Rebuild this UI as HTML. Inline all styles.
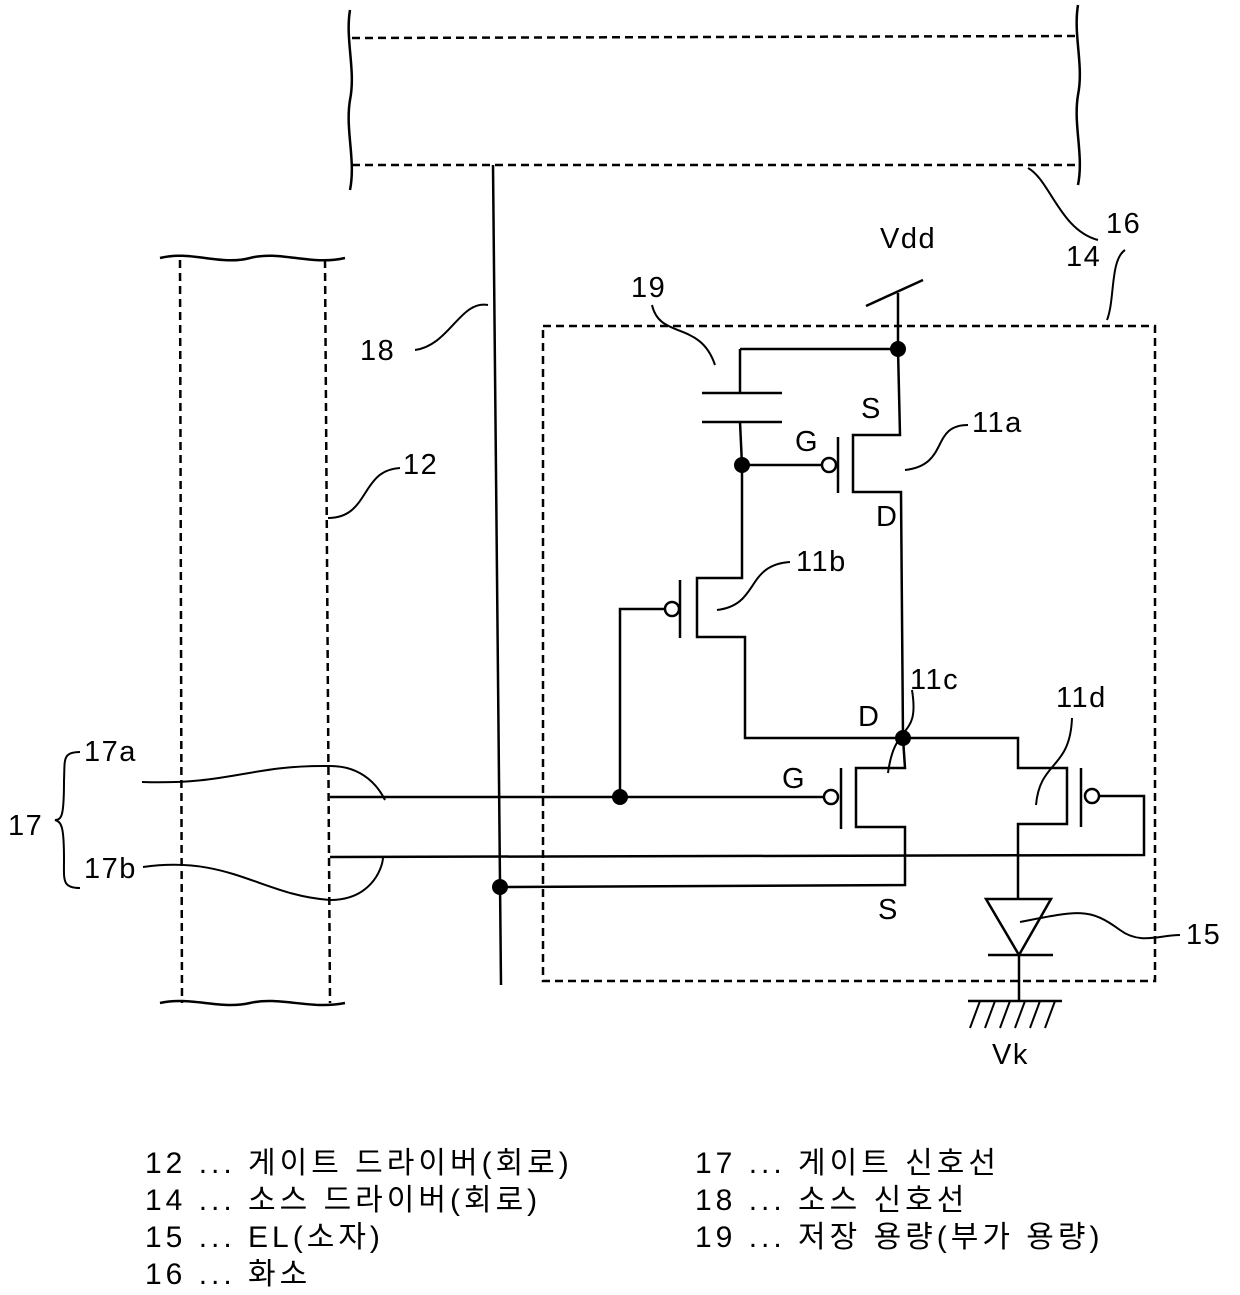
<!DOCTYPE html>
<html><head><meta charset="utf-8"><style>
html,body{margin:0;padding:0;background:#fff;}
svg{display:block;}
text{font-family:"Liberation Sans","Noto Sans CJK KR",sans-serif;fill:#000;}
.l{font-size:29px;letter-spacing:1.5px;}
.g{font-size:30px;letter-spacing:4px;}
</style></head><body>
<svg width="1240" height="1295" viewBox="0 0 1240 1295" xmlns="http://www.w3.org/2000/svg">
<g fill="none" stroke="#000" stroke-width="2.5">
<g stroke-dasharray="8,5">
<line x1="352" y1="38" x2="1076" y2="36"/>
<line x1="352" y1="165" x2="1076" y2="165"/>
</g>
<path d="M350 10 C345 40 356 70 350 100 C345 130 356 160 350 190"/>
<path d="M1078 5 C1073 35 1084 65 1078 95 C1073 125 1084 155 1078 185"/>
<g stroke-dasharray="8,5">
<line x1="180" y1="260" x2="182" y2="1003"/>
<line x1="325" y1="260" x2="330" y2="1003"/>
</g>
<path d="M160 258 C190 250 220 266 250 258 C280 250 310 266 345 258"/>
<path d="M160 1003 C190 996 220 1010 250 1003 C280 996 310 1010 345 1003"/>
<rect x="543" y="326" width="612" height="655" stroke-dasharray="8,5"/>
<line x1="493" y1="165" x2="501" y2="985"/>
<line x1="866" y1="306" x2="923" y2="280"/>
<line x1="898" y1="293" x2="898" y2="349"/>
<polyline points="740,349 898,349 900,435 853,435 853,492 901,492 903,738"/>
<line x1="740" y1="349" x2="740" y2="393"/>
<line x1="702" y1="393" x2="782" y2="393"/>
<line x1="702" y1="422" x2="782" y2="422"/>
<polyline points="740,422 742,465 742,578 697,578 697,637 745,637 745,738 1018,738 1018,768 1067,768 1067,824 1018,824 1018,899"/>
<line x1="742" y1="465" x2="822" y2="465"/>
<circle cx="829" cy="465" r="7"/>
<line x1="838" y1="437" x2="838" y2="493"/>
<line x1="680" y1="580" x2="680" y2="638"/>
<circle cx="672" cy="609" r="7"/>
<polyline points="665,609 620,609 620,797"/>
<polyline points="903,738 905,768 856,768 856,827 905,827 905,885 500,887"/>
<line x1="841" y1="768" x2="841" y2="829"/>
<circle cx="831" cy="797" r="7"/>
<line x1="330" y1="797" x2="824" y2="797"/>
<line x1="1081" y1="768" x2="1081" y2="827"/>
<circle cx="1092" cy="796" r="7"/>
<polyline points="330,857 1144,855 1144,796 1099,796"/>
<polygon points="986,899 1051,899 1019,955"/>
<line x1="988" y1="955" x2="1053" y2="955"/>
<line x1="1019" y1="955" x2="1019" y2="1001"/>
<line x1="968" y1="1001" x2="1062" y2="1001"/>
<g stroke-width="2">
<line x1="980" y1="1001" x2="970" y2="1028"/>
<line x1="995" y1="1001" x2="985" y2="1028"/>
<line x1="1010" y1="1001" x2="1000" y2="1028"/>
<line x1="1025" y1="1001" x2="1015" y2="1028"/>
<line x1="1040" y1="1001" x2="1030" y2="1028"/>
<line x1="1055" y1="1001" x2="1045" y2="1028"/>
</g>
<g stroke-width="2">
<path d="M1028 168 C1050 180 1060 230 1098 240"/>
<path d="M1107 320 C1115 300 1110 260 1125 250"/>
<path d="M652 305 C660 340 700 320 715 365"/>
<path d="M905 470 C950 465 930 425 968 425"/>
<path d="M717 610 C760 605 745 565 790 562"/>
<path d="M888 773 C895 720 920 740 912 690"/>
<path d="M1036 805 C1040 760 1070 770 1072 718"/>
<path d="M1020 922 C1080 910 1090 908 1120 930 C1140 945 1160 935 1180 935"/>
<path d="M415 350 C450 345 460 300 488 305"/>
<path d="M328 518 C370 518 360 470 400 468"/>
<path d="M142 782 C230 785 250 765 328 766 C365 765 380 790 385 800"/>
<path d="M143 867 C230 855 260 895 330 900 C370 900 382 870 383 858"/>
<path d="M80 752 C62 752 65 760 64 780 C64 815 62 820 55 820 C62 822 64 828 64 860 C64 880 62 888 80 888"/>
</g>
</g>
<g fill="#000">
<circle cx="898" cy="349" r="8"/>
<circle cx="742" cy="465" r="8"/>
<circle cx="903" cy="738" r="8"/>
<circle cx="620" cy="797" r="8"/>
<circle cx="500" cy="887" r="8"/>
</g>
<g class="l">
<text x="880" y="248">Vdd</text>
<text x="1066" y="266">14</text>
<text x="1106" y="233">16</text>
<text x="631" y="297">19</text>
<text x="360" y="360">18</text>
<text x="403" y="474">12</text>
<text x="861" y="418">S</text>
<text x="795" y="451">G</text>
<text x="972" y="432">11a</text>
<text x="876" y="526">D</text>
<text x="796" y="571">11b</text>
<text x="910" y="689">11c</text>
<text x="858" y="726">D</text>
<text x="1056" y="707">11d</text>
<text x="782" y="788">G</text>
<text x="878" y="919">S</text>
<text x="1186" y="944">15</text>
<text x="992" y="1064">Vk</text>
<text x="84" y="761">17a</text>
<text x="84" y="878">17b</text>
<text x="8" y="835">17</text>
</g>
<g class="g">
<text x="145" y="1173">12 ... 게이트 드라이버(회로)</text>
<text x="145" y="1210">14 ... 소스 드라이버(회로)</text>
<text x="145" y="1247">15 ... EL(소자)</text>
<text x="145" y="1284">16 ... 화소</text>
<text x="695" y="1173">17 ... 게이트 신호선</text>
<text x="695" y="1210">18 ... 소스 신호선</text>
<text x="695" y="1247">19 ... 저장 용량(부가 용량)</text>
</g>
</svg>
</body></html>
